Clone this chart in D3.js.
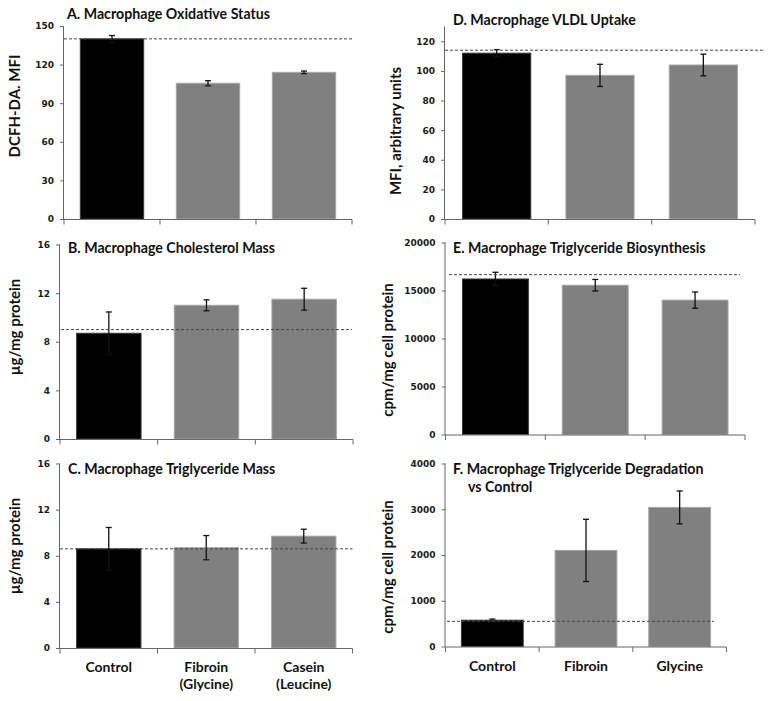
<!DOCTYPE html>
<html><head><meta charset="utf-8">
<script src="https://cdn.jsdelivr.net/npm/d3@7/dist/d3.min.js"></script>
<style>
body{margin:0;background:#fff;}
svg{display:block;}
.title{font-family:Lato,"Open Sans",sans-serif;font-weight:bold;font-size:14.2px;fill:#111;}
.ylab{font-family:Lato,"Open Sans",sans-serif;font-weight:bold;font-size:15px;fill:#111;}
.xlab{font-family:Lato,"Open Sans",sans-serif;font-weight:bold;font-size:14px;fill:#111;}
.tick text{font-family:"DejaVu Sans",sans-serif;font-weight:bold;font-size:9px;fill:#1a1a1a;}
</style></head>
<body><svg id="c" width="768" height="701"></svg>
<script>
// ---------- data ----------
const catsLeft = ["Control", "Fibroin (Glycine)", "Casein (Leucine)"];
const catsF = ["Control", "Fibroin", "Glycine"];
const xLabelsLeft = [["Control"], ["Fibroin", "(Glycine)"], ["Casein", "(Leucine)"]];
const xLabelsF = [["Control"], ["Fibroin"], ["Glycine"]];

const valuesA = [140, 105.5, 114];
const errA = [2.6, 2.0, 1.0];
const refA = 140;
const ticksA = [0, 30, 60, 90, 120, 150];

const valuesB = [8.7, 11.0, 11.5];
const errB = [1.75, 0.45, 0.9];
const refB = 9.0;
const ticksB = [0, 4, 8, 12, 16];

const valuesC = [8.6, 8.7, 9.7];
const errC = [1.85, 1.05, 0.6];
const refC = 8.6;
const ticksC = [0, 4, 8, 12, 16];

const valuesD = [112, 97, 104];
const errD = [2.4, 7.5, 7.3];
const refD = 114;
const ticksD = [0, 20, 40, 60, 80, 100, 120];

const valuesE = [16200, 15550, 14000];
const errE = [700, 600, 850];
const refE = 16650;
const ticksE = [0, 5000, 10000, 15000, 20000];

const valuesF = [575, 2100, 3040];
const errF = [25, 680, 360];
const refF = 550;
const ticksF = [0, 1000, 2000, 3000, 4000];

const titles = {
  A: ["A. Macrophage Oxidative Status"],
  B: ["B. Macrophage Cholesterol Mass"],
  C: ["C. Macrophage Triglyceride Mass"],
  D: ["D. Macrophage VLDL Uptake"],
  E: ["E. Macrophage Triglyceride Biosynthesis"],
  F: ["F. Macrophage Triglyceride Degradation", "vs Control"]
};
const yTitles = {A: "DCFH-DA. MFI", B: "\u00b5g/mg protein", C: "\u00b5g/mg protein",
  D: "MFI, arbitrary units", E: "cpm/mg cell protein", F: "cpm/mg cell protein"};
const barColors = ["#000000", "#808080", "#808080"];

// ---------- layout ----------
const panels = [
  {id:"A", cats:catsLeft, vals:valuesA, err:errA, ref:refA, ticks:ticksA, max:150,
   x0:64, x1:352, yb:219, yt:26, dash:[64,352], tx:67, ty:19, ylx:15, yly:106},
  {id:"B", cats:catsLeft, vals:valuesB, err:errB, ref:refB, ticks:ticksB, max:16,
   x0:60, x1:353, yb:439, yt:244.5, dash:[61,352], tx:68, ty:252.5, ylx:15, yly:327},
  {id:"C", cats:catsLeft, vals:valuesC, err:errC, ref:refC, ticks:ticksC, max:16,
   x0:60, x1:352.5, yb:648, yt:463.5, dash:[60,352.5], tx:68, ty:474, ylx:15, yly:546, xl:xLabelsLeft},
  {id:"D", cats:catsLeft, vals:valuesD, err:errD, ref:refD, ticks:ticksD, max:130,
   x0:445, x1:755, yb:219, yt:26.5, dash:[445,764], tx:453, ty:24.5, ylx:396, yly:131},
  {id:"E", cats:catsLeft, vals:valuesE, err:errE, ref:refE, ticks:ticksE, max:20000,
   x0:445.5, x1:745, yb:434.5, yt:242.5, dash:[449,740], tx:453, ty:252.5, ylx:388, yly:350},
  {id:"F", cats:catsF, vals:valuesF, err:errF, ref:refF, ticks:ticksF, max:4000,
   x0:445.5, x1:726.5, yb:646.5, yt:463.5, dash:[447,714], tx:453, ty:474, ylx:388, yly:567, xl:xLabelsF}
];

const svg = d3.select("#c");

panels.forEach(p => {
  const g = svg.append("g");
  const x = d3.scaleBand().domain(p.cats).range([p.x0, p.x1]).paddingInner(0.34).paddingOuter(0.17);
  const y = d3.scaleLinear().domain([0, p.max]).range([p.yb, p.yt]);

  // bars
  g.selectAll("rect.bar").data(p.vals).join("rect")
    .attr("x", (d,i) => x(p.cats[i]))
    .attr("width", x.bandwidth())
    .attr("y", d => y(d))
    .attr("height", d => y(0) - y(d))
    .attr("fill", (d,i) => barColors[i])
    .attr("stroke", (d,i) => i === 0 ? "#3a3a3a" : "#a6a6a6")
    .attr("stroke-width", 1);

  // error bars
  const eb = g.selectAll("g.eb").data(p.vals).join("g");
  const cx = i => x(p.cats[i]) + x.bandwidth()/2;
  eb.append("line")
    .attr("x1", (d,i) => cx(i)).attr("x2", (d,i) => cx(i))
    .attr("y1", (d,i) => y(d + p.err[i])).attr("y2", (d,i) => y(d - p.err[i]));
  eb.append("line")
    .attr("x1", (d,i) => cx(i) - 3).attr("x2", (d,i) => cx(i) + 3)
    .attr("y1", (d,i) => y(d + p.err[i])).attr("y2", (d,i) => y(d + p.err[i]));
  eb.append("line")
    .attr("x1", (d,i) => cx(i) - 3).attr("x2", (d,i) => cx(i) + 3)
    .attr("y1", (d,i) => y(d - p.err[i])).attr("y2", (d,i) => y(d - p.err[i]));
  eb.selectAll("line").attr("stroke", (d,i,n) => "#111").attr("stroke-width", 1.3);

  // dashed reference
  g.append("line")
    .attr("x1", p.dash[0]).attr("x2", p.dash[1])
    .attr("y1", y(p.ref)).attr("y2", y(p.ref))
    .attr("stroke", "#444").attr("stroke-width", 1).attr("stroke-dasharray", "3,2");

  // y axis
  const ya = d3.axisLeft(y).tickValues(p.ticks).tickSize(4).tickPadding(6).tickFormat(d3.format("d"));
  const yg = g.append("g").attr("transform", `translate(${p.x0},0)`).call(ya);
  yg.select(".domain").attr("d", `M-0.5,${p.yt}V${p.yb}`).attr("stroke", "#666");
  yg.selectAll(".tick line").attr("stroke", "#666");

  // x axis: ticks at band boundaries
  const step = x.step();
  const bounds = d3.range(p.cats.length + 1).map(i => p.x0 + i * step);
  g.append("line").attr("x1", p.x0 - 0.5).attr("x2", p.x1).attr("y1", p.yb + 0.5).attr("y2", p.yb + 0.5).attr("stroke", "#666");
  g.selectAll("line.xt").data(bounds).join("line")
    .attr("x1", d => d).attr("x2", d => d)
    .attr("y1", p.yb + 0.5).attr("y2", p.yb + 5.5).attr("stroke", "#666");

  // x labels
  if (p.xl) {
    p.xl.forEach((lines, i) => {
      const t = g.append("text").attr("class", "xlab").attr("text-anchor", "middle")
        .attr("x", cx(i)).attr("y", p.yb + 24);
      lines.forEach((ln, k) => {
        t.append("tspan").attr("x", cx(i)).attr("dy", k === 0 ? 0 : 17).text(ln);
      });
    });
  }

  // title
  const tt = g.append("text").attr("class", "title").attr("x", p.tx).attr("y", p.ty);
  titles[p.id].forEach((ln, k) => {
    tt.append("tspan").attr("x", p.tx + (k === 0 ? 0 : 15)).attr("dy", k === 0 ? 0 : 17.5).text(ln);
  });

  // y title
  g.append("text").attr("class", "ylab").attr("text-anchor", "middle")
    .attr("transform", `translate(${p.ylx + 5},${p.yly}) rotate(-90)`)
    .text(yTitles[p.id]);
});
</script>
</body></html>
